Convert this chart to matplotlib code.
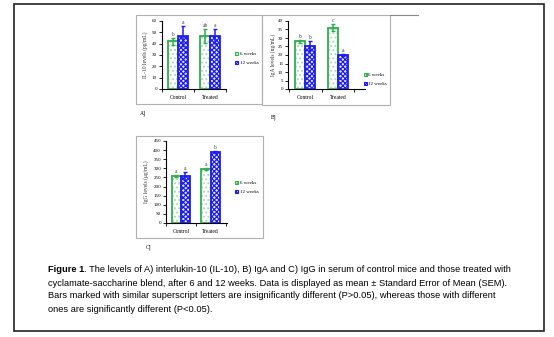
import matplotlib.pyplot as plt
from matplotlib.patches import Rectangle, Patch
from matplotlib.lines import Line2D

W, H = 554, 337

groups = ["Control", "Treated"]
series = ["6 weeks", "12 weeks"]

il10_6w = [42, 47]
il10_12w = [47, 47]
il10_err_6w = [3, 6]
il10_err_12w = [9, 6]
il10_sig_6w = ["b", "ab"]
il10_sig_12w = ["a", "a"]

iga_6w = [28, 36]
iga_12w = [25.5, 20]
iga_err_6w = [0.8, 2]
iga_err_12w = [2.5, 0.4]
iga_sig_6w = ["b", "c"]
iga_sig_12w = ["b", "a"]

igg_6w = [258, 297]
igg_12w = [258, 390]
igg_err_6w = [4, 5]
igg_err_12w = [22, 5]
igg_sig_6w = ["a", "a"]
igg_sig_12w = ["a", "b"]

caption = [
    "cyclamate-saccharine blend, after 6 and 12 weeks. Data is displayed as mean \u00b1 Standard Error of Mean (SEM).",
    "Bars marked with similar superscript letters are insignificantly different (P>0.05), whereas those with different",
    "ones are significantly different (P<0.05).",
]
caption_first = " The levels of A) interlukin-10 (IL-10), B) IgA and C) IgG in serum of control mice and those treated with"

GREEN = "#2fae4f"
LGREEN = "#a8dcb4"
BLUE = "#1c1cf0"
GRAY = "#b0b0b0"
SERIF = ["Liberation Serif", "DejaVu Serif"]
NARROW = ["Liberation Sans Narrow", "Liberation Sans", "DejaVu Sans"]

plt.rcParams["hatch.linewidth"] = 0.9


def px_axes(fig, left, top, right, bottom):
    return fig.add_axes([left / W, 1 - bottom / H, (right - left) / W, (bottom - top) / H])


def panel(fig, box, xlim, ymax, ystep, v6, v12, e6, e12, s6, s12, ylabel, ylab_x, leg_xy):
    left, top, right, bottom = box
    ax = px_axes(fig, left, top, right, bottom)
    ax.patch.set_alpha(0)
    w = 0.31
    xs = range(len(groups))
    x6 = [x - w / 2 for x in xs]
    x12 = [x + w / 2 for x in xs]
    # 6 weeks: light dotted fill, green outline
    ax.bar(x6, v6, w, color="white", edgecolor=LGREEN, hatch="....", linewidth=0, zorder=2)
    ax.bar(x6, v6, w, fill=False, edgecolor=GREEN, linewidth=1.3, zorder=3)
    # 12 weeks: dense blue checker
    ax.bar(x12, v12, w, color="#e8e8ff", edgecolor=BLUE, hatch="xxxxxxx", linewidth=0, zorder=2)
    ax.bar(x12, v12, w, fill=False, edgecolor=BLUE, linewidth=1.3, zorder=3)
    ax.errorbar(x6, v6, yerr=e6, fmt="none", ecolor=GREEN, elinewidth=1.1, capsize=1.5, zorder=4)
    ax.errorbar(x12, v12, yerr=e12, fmt="none", ecolor=BLUE, elinewidth=1.1, capsize=1.5, zorder=4)
    for xx, v, e, s in zip(x6 + x12, v6 + v12, e6 + e12, s6 + s12):
        ax.text(xx, v + e + ymax * 0.015, s, ha="center", va="bottom", fontsize=4,
                family=SERIF, color="#444444")
    ax.set_xlim(*xlim)
    ax.set_ylim(0, ymax)
    ax.set_yticks(range(0, ymax + 1, ystep))
    ax.set_xticks([-0.5, 0.5, 1.5])
    ax.set_xticklabels([])
    ax.set_xticks([0, 1], minor=True)
    ax.set_xticklabels(groups, minor=True)
    ax.tick_params(axis="x", which="minor", length=0, pad=4, labelsize=4)
    ax.tick_params(axis="x", which="major", length=2, width=0.6, direction="out")
    ax.tick_params(axis="y", length=2, width=0.6, pad=1.5, labelsize=3.6)
    for lab in ax.get_xticklabels(minor=True) + ax.get_yticklabels():
        lab.set_family(SERIF)
    for sp in ("top", "right"):
        ax.spines[sp].set_visible(False)
    for sp in ("left", "bottom"):
        ax.spines[sp].set_linewidth(0.8)
    fig.text(ylab_x / W, 1 - (top + bottom) / 2 / H, ylabel, rotation=90, ha="center",
             va="center", fontsize=4, family=SERIF, color="#333333")
    handles = [
        Patch(facecolor="white", edgecolor=GREEN, hatch="....", linewidth=0.8),
        Patch(facecolor="white", edgecolor=BLUE, hatch="xxxxxx", linewidth=0.8),
    ]
    fig.legend(handles, series, loc="upper left", bbox_to_anchor=(leg_xy[0] / W, 1 - leg_xy[1] / H),
               frameon=False, handlelength=0.7, handleheight=0.7,
               handletextpad=0.3, labelspacing=0.9, borderpad=0,
               prop={"family": SERIF, "size": 3.6})
    return ax


fig = plt.figure(figsize=(W / 100, H / 100), dpi=100)
bg = fig.add_axes([0, 0, 1, 1])
bg.set_xlim(0, W)
bg.set_ylim(H, 0)
bg.axis("off")

# frames
bg.add_patch(Rectangle((14, 4), 530, 327, fill=False, edgecolor="#222222", linewidth=1.2))
bg.add_patch(Rectangle((136, 15), 126, 89, fill=False, edgecolor=GRAY, linewidth=0.8))
bg.add_patch(Rectangle((262, 15), 128, 90, fill=False, edgecolor=GRAY, linewidth=0.8))
bg.add_line(Line2D([390, 418], [15, 15], color="#888888", linewidth=0.8))
bg.add_patch(Rectangle((136, 136), 127, 102, fill=False, edgecolor=GRAY, linewidth=0.8))

panel(fig, (162, 21, 226, 89), (-0.5, 1.5), 60, 10, il10_6w, il10_12w, il10_err_6w,
      il10_err_12w, il10_sig_6w, il10_sig_12w, "IL-10 levels (pg/mL)", 145, (232, 49))
panel(fig, (288, 21, 365, 89), (-0.52, 1.82), 40, 5, iga_6w, iga_12w, iga_err_6w,
      iga_err_12w, iga_sig_6w, iga_sig_12w, "IgA levels (ng/mL)", 273, (361, 70))
panel(fig, (166, 141, 227, 223), (-0.42, 1.55), 450, 50, igg_6w, igg_12w, igg_err_6w,
      igg_err_12w, igg_sig_6w, igg_sig_12w, "IgG levels (\u03bcg/mL)", 146, (232, 178))

bg.text(140, 113, "A]", fontsize=4, family=SERIF, va="center")
bg.text(271, 117, "B]", fontsize=4, family=SERIF, va="center")
bg.text(146, 247, "C]", fontsize=4, family=SERIF, va="center")

# caption
t1 = bg.text(48, 270, "Figure 1", fontsize=6.7, family=NARROW, weight="bold", va="center")
bg.annotate("." + caption_first, xy=(1, 0.5), xycoords=t1, va="center", fontsize=6.7,
            family=NARROW)
for i, line in enumerate(caption):
    bg.text(48, 283 + 13 * i, line, fontsize=6.7, family=NARROW, va="center")

fig.savefig("out.png", dpi=100)
